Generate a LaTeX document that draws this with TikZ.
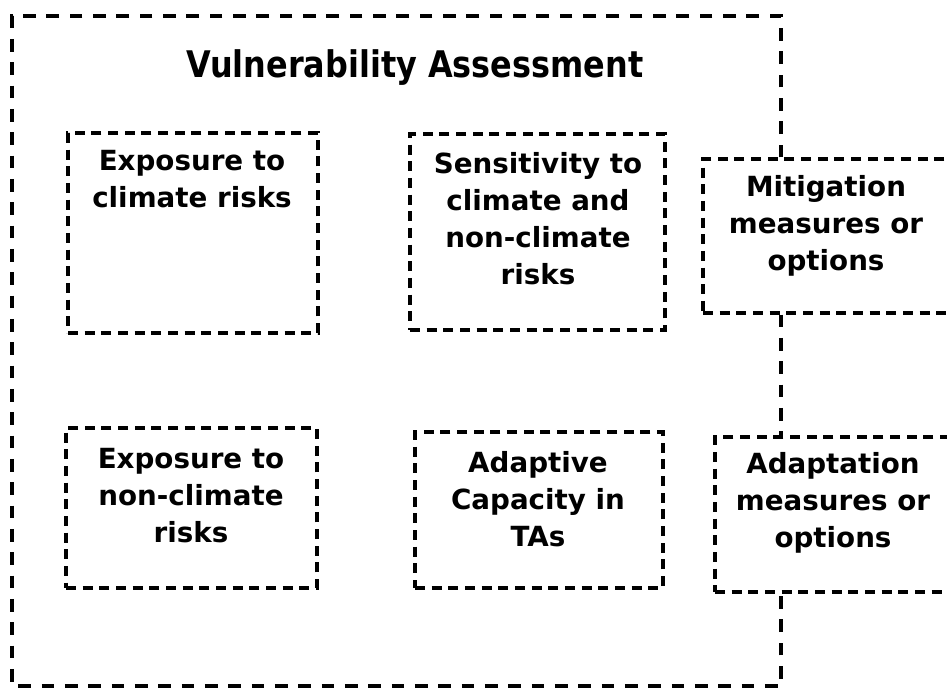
\documentclass[tikz,border=0pt]{standalone}
\usepackage{graphicx}
\usepackage{fontspec}
\newfontfamily\boxfont{DejaVu Sans}
\newfontfamily\titlefont{DejaVu Sans}
\tikzset{
  outerline/.style={line width=2.3pt, dash pattern=on 9.5pt off 8pt},
  boxline/.style={line width=2.3pt, dash pattern=on 7.5pt off 5pt},
  box/.style={boxline, draw, rectangle, inner sep=0pt},
  boxtext/.style={align=center, inner sep=0pt, font=\boxfont\bfseries\fontsize{20.8}{27.75}\selectfont},
  titletext/.style={inner sep=0pt, font=\titlefont\bfseries\fontsize{27.5}{30}\selectfont}
}
\begin{document}
\begin{tikzpicture}[x=0.75pt,y=-0.75pt]
\useasboundingbox (0,0) rectangle (947,688);
\clip (0,0) rectangle (947,688);
\fill[white] (0,0) rectangle (947,688);

% inner boxes
\node[box, minimum width={250*0.75pt}, minimum height={200*0.75pt}] (b1) at (193,233) {};
\node[box, minimum width={255*0.75pt}, minimum height={196*0.75pt}] (b2) at (537.5,232) {};
\node[box, minimum width={251*0.75pt}, minimum height={160*0.75pt}] (b3) at (191.5,508) {};
\node[box, minimum width={248*0.75pt}, minimum height={156*0.75pt}] (b4) at (539,510) {};
\node[box, minimum width={277*0.75pt}, minimum height={154*0.75pt}] (mit) at (841.5,236) {};
\node[box, minimum width={265*0.75pt}, minimum height={155*0.75pt}] (adap) at (847.5,514.5) {};

% texts
\node[titletext] (title) at (415,68) {\scalebox{0.87}[1]{Vulnerability Assessment}};
\node[boxtext] (t1) at (192,179.5) {Exposure to\\climate risks};
\node[boxtext] (t2) at (538,219) {Sensitivity to\\climate and\\non-climate\\risks};
\node[boxtext] (t3) at (191,496) {Exposure to\\non-climate\\risks};
\node[boxtext] (t4) at (538,499.5) {Adaptive\\Capacity in\\TAs};
\node[boxtext] (tm) at (826,226) {Mitigation\\measures or\\options};
\node[boxtext] (ta) at (833,503) {Adaptation\\measures or\\options};

% outer frame
\coordinate (ftr) at (781,16);
\coordinate (ftl) at (12,16);
\coordinate (fbl) at (12,686);
\coordinate (fbr) at (781,686);
\draw[outerline] (mit.north -| ftr) -- (ftr) -- (ftl) -- (fbl) -- (fbr) -- (adap.south -| fbr);
\draw[outerline] (mit.south -| ftr) -- (adap.north -| ftr);
\end{tikzpicture}
\end{document}
